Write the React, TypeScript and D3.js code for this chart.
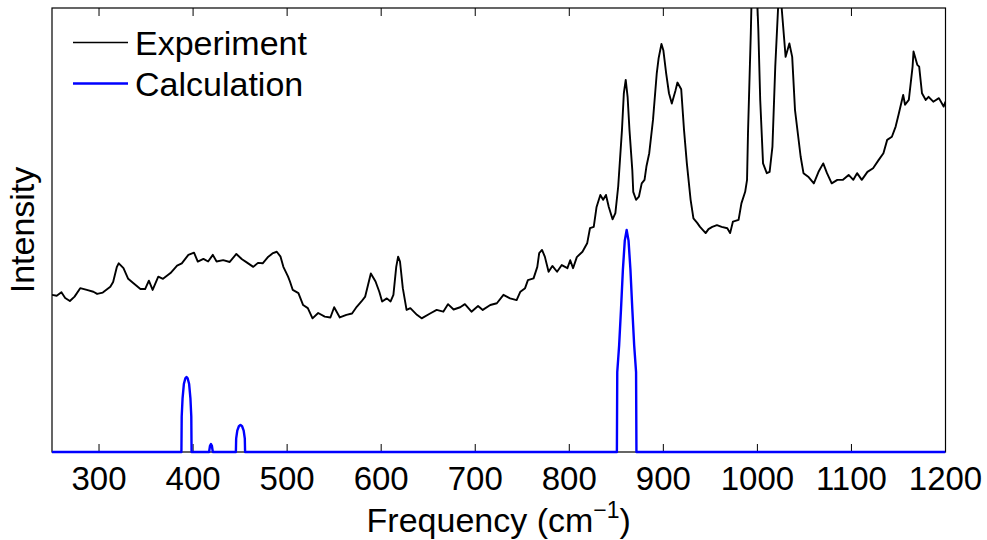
import React from "react";
import * as d3 from "d3";

// ---- data ----
const xTicks = [300, 400, 500, 600, 700, 800, 900, 1000, 1100, 1200];
const legendLabels = ["Experiment", "Calculation"];

const expFreq = [
  250, 255, 260, 264, 269, 274, 280, 287, 294, 298, 304, 312, 315, 319, 321, 326, 331, 336, 344, 349,
  353, 357, 363, 368, 376, 383, 388, 395, 401, 405, 411, 416, 421, 425, 432, 439, 446, 452, 457, 464,
  469, 474, 480, 485, 489, 493, 496, 501, 503, 506, 512, 517, 522, 527, 533, 540, 546, 550, 556, 563,
  569, 574, 579, 583, 586, 589, 594, 598, 601, 606, 610, 613, 616, 618, 620, 623, 627, 631, 638, 643,
  652, 659, 666, 671, 677, 684, 689, 696, 703, 708, 716, 723, 730, 737, 744, 748, 753, 756, 762, 766,
  768, 771, 774, 778, 782, 787, 792, 798, 801, 804, 808, 814, 819, 822, 826, 829, 833, 836, 839, 842,
  846, 849, 852, 856, 858, 860, 862, 864, 867, 868, 871, 874, 877, 880, 882, 885, 889, 893, 895, 898,
  900, 903, 906, 909, 913, 915, 919, 922, 925, 929, 932, 936, 939, 945, 948, 952, 957, 962, 968, 971,
  974, 980, 983, 987, 989, 990, 993, 995, 997, 999, 1001, 1003, 1006, 1010, 1013, 1016, 1019, 1022, 1024, 1026,
  1030, 1034, 1037, 1040, 1046, 1049, 1054, 1060, 1065, 1070, 1074, 1079, 1085, 1091, 1097, 1102, 1106, 1111, 1117, 1123,
  1129, 1134, 1138, 1143, 1147, 1150, 1155, 1157, 1161, 1165, 1166, 1170, 1172, 1175, 1179, 1182, 1187, 1193, 1198, 1200,
];
const expInt = [
  35.4, 35.2, 36.0, 34.7, 34.0, 35.0, 36.9, 36.5, 36.1, 35.6, 35.9, 37.2, 38.3, 41.7, 42.5, 41.4, 39.0, 38.1, 36.7, 36.7,
  38.6, 36.5, 39.5, 39.0, 40.3, 42.0, 42.5, 44.4, 44.9, 42.9, 43.5, 42.9, 44.4, 42.9, 43.2, 42.8, 44.6, 43.4, 42.7, 41.7,
  42.6, 42.5, 44.0, 44.8, 45.1, 44.0, 41.7, 39.5, 38.4, 36.5, 35.8, 33.1, 32.4, 30.1, 31.3, 30.5, 30.3, 32.6, 30.3, 30.9,
  31.2, 32.7, 33.9, 35.0, 37.6, 40.2, 38.4, 36.1, 33.9, 34.6, 33.9, 35.4, 41.7, 44.0, 42.9, 36.9, 32.0, 32.4, 30.9, 30.1,
  31.2, 32.0, 31.6, 33.3, 32.1, 32.6, 33.3, 31.6, 32.9, 32.0, 33.1, 33.5, 35.4, 34.6, 34.2, 36.1, 36.9, 38.7, 39.1, 41.7,
  44.8, 45.5, 44.0, 40.6, 41.9, 40.6, 42.1, 41.4, 43.2, 41.4, 43.9, 45.1, 47.0, 50.4, 50.7, 55.2, 57.9, 56.8, 57.9, 55.2,
  52.4, 53.8, 59.8, 72.5, 80.8, 83.8, 80.0, 72.5, 63.5, 58.6, 56.8, 57.5, 60.5, 61.3, 64.3, 67.3, 74.8, 85.3, 88.7, 91.9,
  90.5, 85.3, 80.8, 78.5, 81.5, 83.2, 81.7, 72.5, 65.0, 56.8, 52.6, 51.6, 50.7, 49.3, 50.2, 50.7, 51.1, 50.7, 50.4, 49.3,
  51.9, 52.3, 56.0, 58.6, 61.3, 71.8, 94.4, 113.1, 119.8, 106.3, 95.0, 79.3, 65.0, 62.8, 63.1, 68.8, 86.8, 100.0, 106.3, 99.5,
  89.0, 92.0, 89.0, 77.0, 66.5, 62.8, 62.0, 60.5, 63.1, 65.0, 62.8, 60.5, 61.3, 61.3, 62.4, 61.3, 62.8, 61.3, 63.1, 63.9,
  65.8, 67.3, 70.3, 71.0, 73.3, 75.9, 80.4, 78.2, 79.3, 86.8, 90.2, 87.2, 86.8, 80.8, 79.3, 80.0, 78.9, 79.7, 77.8, 78.9,
];

const calcFreq = [
  250, 387.6, 387.9, 388.8, 390.2, 391.8, 393, 394.2, 395.8, 397.2, 398.1, 398.4,
  417, 418, 419, 420, 421,
  445.5, 445.8, 447, 448.7, 450.4, 452.1, 453.8, 455, 455.3,
  850.6, 851, 852, 853, 855, 857, 859, 861, 863, 865, 867, 869, 870, 871, 871.4,
  1200,
];
const calcInt = [
  0, 0, 8, 12, 15.3, 16.6, 16.9, 16.6, 15.3, 12, 8, 0,
  0, 1.4, 1.8, 1.4, 0,
  0, 3, 4.8, 5.8, 6.1, 5.8, 4.8, 3, 0,
  0, 18, 21, 24, 32.2, 41.1, 47.6, 50, 47.6, 41.1, 32.2, 24, 21, 18, 0,
  0,
];

const W = 987;
const H = 540;
const PL = 52, PR = 945.5, PT = 8, PB = 452;
const FONT = "'Liberation Sans', Arial, Helvetica, sans-serif";

export default function App() {
  const x = d3.scaleLinear().domain([250, 1200]).range([PL, PR]);
  const y = d3.scaleLinear().domain([0, 100]).range([PB, PT]);

  const expData = expFreq.map((f, i) => [f, expInt[i]] as [number, number]);
  const calcData = calcFreq.map((f, i) => [f, calcInt[i]] as [number, number]);

  const line = d3
    .line<[number, number]>()
    .x((d) => x(d[0]))
    .y((d) => y(d[1]));

  const expPath = line(expData) || "";
  const calcPath = line(calcData) || "";

  return (
    <svg
      width={W}
      height={H}
      style={{ position: "absolute", left: 0, top: 0, background: "#fff" }}
      fontFamily={FONT}
    >
      <defs>
        <clipPath id="plotclip">
          <rect x={PL} y={PT} width={PR - PL} height={PB - PT + 2} />
        </clipPath>
      </defs>
      <rect x={0} y={0} width={W} height={H} fill="#fff" />

      {/* ticks */}
      {xTicks.map((t) => (
        <g key={t}>
          <line x1={x(t)} x2={x(t)} y1={PB} y2={PB - 8} stroke="#000" strokeWidth={1} />
          <line x1={x(t)} x2={x(t)} y1={PT} y2={PT + 8} stroke="#000" strokeWidth={1} />
          <text x={x(t)} y={490} textAnchor="middle" fontSize={33} fill="#000">
            {t}
          </text>
        </g>
      ))}

      {/* axes box */}
      <rect x={PL} y={PT} width={PR - PL} height={PB - PT} fill="none" stroke="#000" strokeWidth={1.2} />

      {/* data */}
      <g clipPath="url(#plotclip)">
        <path d={expPath} fill="none" stroke="#000" strokeWidth={1.9} strokeLinejoin="round" />
        <path d={calcPath} fill="none" stroke="#0000ff" strokeWidth={2.4} strokeLinejoin="round" />
      </g>

      {/* legend */}
      <line x1={73} x2={128} y1={42.5} y2={42.5} stroke="#000" strokeWidth={1.3} />
      <text x={135} y={55} fontSize={34} fill="#000">{legendLabels[0]}</text>
      <line x1={73} x2={128} y1={83.5} y2={83.5} stroke="#0000ff" strokeWidth={2.6} />
      <text x={135} y={96} fontSize={34} fill="#000">{legendLabels[1]}</text>

      {/* axis labels */}
      <text x={(PL + PR) / 2} y={532} textAnchor="middle" fontSize={34} fill="#000">
        Frequency (cm
        <tspan fontSize={23} dy={-14}>−1</tspan>
        <tspan dy={14}>)</tspan>
      </text>
      <text
        transform={`translate(34, ${(PT + PB) / 2}) rotate(-90)`}
        textAnchor="middle"
        fontSize={34}
        fill="#000"
      >
        Intensity
      </text>
    </svg>
  );
}
